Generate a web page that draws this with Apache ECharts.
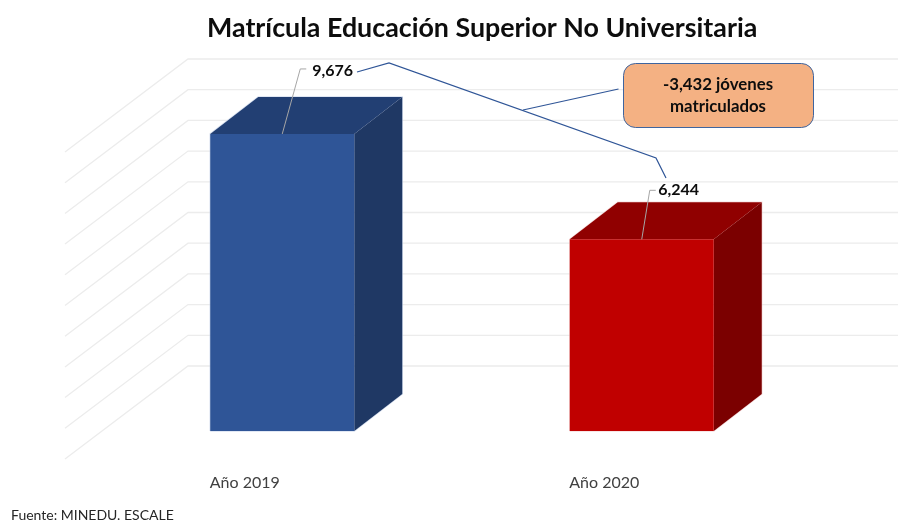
<!DOCTYPE html>
<html>
<head>
<meta charset="utf-8">
<style>html,body{margin:0;padding:0;background:#fff}#c{width:898px;height:520px}</style>
<script src="https://cdn.jsdelivr.net/npm/echarts@6/dist/echarts.min.js"></script>
</head>
<body>
<div id="c"></div>
<script>
const categories = ['Año 2019', 'Año 2020'];
const values = [9676, 6244];
const gridValues = [0, 1000, 2000, 3000, 4000, 5000, 6000, 7000, 8000, 9000, 10000];
const titleText = 'Matrícula Educación Superior No Universitaria';
const calloutText = '-3,432 jóvenes\nmatriculados';
const sourceText = 'Fuente: MINEDU. ESCALE';

const FONT = 'Lato, "Open Sans", sans-serif';
const WALL = { dx: 123, dy: -93 };
const BAR_SHIFT = { dx: 37.5, dy: -28 };
const BAR_DEPTH = { dx: 48, dy: -37 };
const BAR_W = 144;
const PALETTE = [
  { front: '#2F5597', top: '#223F73', side: '#1F3864', edge: 'rgba(190,205,230,0.6)' },
  { front: '#C00000', top: '#900000', side: '#7B0000', edge: 'rgba(240,200,200,0.6)' }
];
const LEADERS = [
  { elbow: [18, -65], end: [24, -65], text: [30, -63] },
  { elbow: [8, -49], end: [14, -49], text: [16.5, -49] }
];

const chart = echarts.init(document.getElementById('c'));
chart.setOption({
  animation: false,
  backgroundColor: '#fff',
  title: {
    text: titleText, left: 202, top: 10,
    textStyle: { fontFamily: FONT, fontWeight: 'bold', fontSize: 26.8, color: '#0D0D0D' }
  },
  grid: { left: 65, width: 719, top: 152, height: 307 },
  xAxis: {
    type: 'category', data: categories,
    axisLine: { show: false }, axisTick: { show: false },
    axisLabel: { fontFamily: FONT, fontSize: 16, color: '#404040', margin: 16 }
  },
  yAxis: { type: 'value', min: 0, max: 10000, interval: 1000, show: false, splitLine: { show: false } },
  series: [
    {
      type: 'custom', z: 1, silent: true,
      data: gridValues.map(v => [0, v]),
      clip: false,
      renderItem(params, api) {
        const y = api.coord([0, api.value(1)])[1];
        const x0 = params.coordSys.x, x1 = x0 + params.coordSys.width;
        return {
          type: 'polyline',
          shape: { points: [[x0, y], [x0 + WALL.dx, y + WALL.dy], [x1 + WALL.dx, y + WALL.dy]] },
          style: { stroke: '#ECECEC', lineWidth: 1.3, fill: null }
        };
      }
    },
    {
      type: 'custom', z: 2, silent: true,
      data: values.map((v, i) => [i, v]),
      clip: false,
      renderItem(params, api) {
        const i = api.value(0), v = api.value(1);
        const top = api.coord([i, v]), base = api.coord([i, 0]);
        const c = PALETTE[i], l = LEADERS[i];
        const xl = top[0] - BAR_W / 2 + BAR_SHIFT.dx, xr = xl + BAR_W;
        const yt = top[1] + BAR_SHIFT.dy, yb = base[1] + BAR_SHIFT.dy;
        const d = BAR_DEPTH;
        const cx = (xl + xr) / 2;
        return {
          type: 'group',
          children: [
            { type: 'polyline', shape: { points: [[xl, yb], [xl, yt], [xl + d.dx, yt + d.dy], [xr + d.dx, yt + d.dy], [xr + d.dx, yb + d.dy], [xr, yb], [xl, yb]] }, style: { stroke: c.edge, lineWidth: 1.5, fill: null } },
            { type: 'polygon', shape: { points: [[xr, yt], [xr + d.dx, yt + d.dy], [xr + d.dx, yb + d.dy], [xr, yb]] }, style: { fill: c.side } },
            { type: 'polygon', shape: { points: [[xl, yt], [xl + d.dx, yt + d.dy], [xr + d.dx, yt + d.dy], [xr, yt]] }, style: { fill: c.top } },
            { type: 'rect', shape: { x: xl, y: yt, width: BAR_W, height: yb - yt }, style: { fill: c.front } },
            { type: 'polyline', shape: { points: [[cx, yt], [cx + l.elbow[0], yt + l.elbow[1]], [cx + l.end[0], yt + l.end[1]]] }, style: { stroke: '#A6A6A6', lineWidth: 1, fill: null } },
            { type: 'text', x: cx + l.text[0], y: yt + l.text[1], style: { text: echarts.format.addCommas(v), fontFamily: FONT, fontWeight: 'bold', fontSize: 16, fill: '#0D0D0D', verticalAlign: 'middle', align: 'left' } }
          ]
        };
      }
    }
  ],
  graphic: [
    { type: 'polyline', z: 5, shape: { points: [[357, 72], [389, 63], [656, 158], [666, 178]] }, style: { stroke: '#2F5597', lineWidth: 1.2, fill: null } },
    { type: 'line', z: 5, shape: { x1: 523, y1: 110, x2: 618.5, y2: 89 }, style: { stroke: '#2F5597', lineWidth: 1.2 } },
    { type: 'rect', z: 5, shape: { x: 623.5, y: 63.5, width: 190, height: 64, r: 12 }, style: { fill: '#F4B183', stroke: '#3F659F', lineWidth: 1 } },
    { type: 'text', z: 6, x: 718, y: 95.5, style: { text: calloutText, fontFamily: FONT, fontWeight: 'bold', fontSize: 16.8, lineHeight: 22, fill: '#0D0D0D', align: 'center', verticalAlign: 'middle' } },
    { type: 'text', z: 6, x: 11, y: 515, style: { text: sourceText, fontFamily: FONT, fontSize: 14, fill: '#262626', align: 'left', verticalAlign: 'middle' } }
  ]
});
</script>
</body>
</html>
